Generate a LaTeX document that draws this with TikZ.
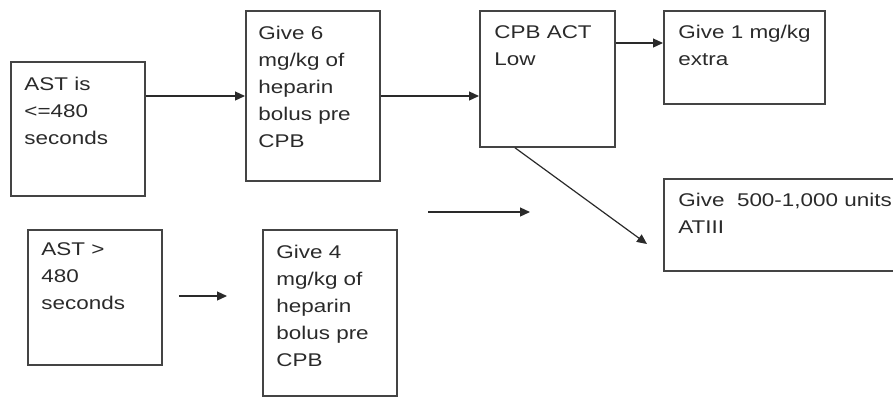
\documentclass[tikz,border=0pt]{standalone}
\usepackage{fontspec}
\setmainfont{Liberation Sans}[FakeStretch=1.22]
\usetikzlibrary{arrows.meta,calc}
\definecolor{FlowInk}{HTML}{2A2A2A}
\definecolor{FlowEdge}{HTML}{444444}

\begin{document}
\begin{tikzpicture}[
    x=0.5pt,y=-0.5pt,
    box/.style={draw=FlowEdge,line width=0.9pt,anchor=north west,inner sep=0pt},
    txt/.style={anchor=north west,inner sep=0pt,align=left,text=FlowInk,
      font=\fontsize{9.2}{13.5}\selectfont},
    arrow/.style={-{Triangle[length=5pt,width=4.5pt]},line width=0.6pt,color=FlowInk}
  ]
    \clip (0,0) rectangle (893,397);
    % boxes
    \node[box,minimum width=67pt,minimum height=67pt] (astlow) at (10,61) {};
    \node[box,minimum width=67pt,minimum height=85pt] (give6) at (245,10) {};
    \node[box,minimum width=67.5pt,minimum height=68pt] (actlow) at (479,10) {};
    \node[box,minimum width=80.5pt,minimum height=46.5pt] (extra) at (663,10) {};
    \node[box,minimum width=150pt,minimum height=46pt] (at3) at (663,178) {};
    \node[box,minimum width=67pt,minimum height=67.5pt] (asthigh) at (27,229) {};
    \node[box,minimum width=67pt,minimum height=83pt] (give4) at (262,229) {};
    % texts
    \node[txt] (astlow-t) at ([shift={(14,16)}]astlow.north west) {AST is\\<=480\\seconds};
    \node[txt] (give6-t) at ([shift={(13,16)}]give6.north west) {Give 6\\mg/kg of\\heparin\\bolus pre\\CPB};
    \node[txt] (actlow-t) at ([shift={(15,15)}]actlow.north west) {CPB ACT\\Low};
    \node[txt] (extra-t) at ([shift={(15,15)}]extra.north west) {Give 1 mg/kg\\extra};
    \node[txt] (at3-t) at ([shift={(15,15)}]at3.north west) {Give~~500-1,000 units\\ATIII};
    \node[txt] (asthigh-t) at ([shift={(14,13)}]asthigh.north west) {AST >\\480\\seconds};
    \node[txt] (give4-t) at ([shift={(14,16)}]give4.north west) {Give 4\\mg/kg of\\heparin\\bolus pre\\CPB};
    % arrows
    \coordinate (rowa) at (0,96);
    \coordinate (rowb) at (0,43);
    \coordinate (rowc) at (0,296);
    \coordinate (cola) at (515,0);
    \coordinate (diagend) at (647,244);
    \coordinate (gapa) at (428,212);
    \coordinate (gapb) at (530,212);
    \draw[arrow] (astlow.east |- rowa) -- (give6.west |- rowa);
    \draw[arrow] (give6.east |- rowa) -- (actlow.west |- rowa);
    \draw[arrow] (actlow.east |- rowb) -- (extra.west |- rowb);
    \draw[arrow] (actlow.south -| cola) -- (diagend);
    \draw[arrow] (gapa) -- (gapb);
    \draw[arrow,shorten <=8pt,shorten >=17.5pt] (asthigh.east |- rowc) -- (give4.west |- rowc);
  \end{tikzpicture}
\end{document}
